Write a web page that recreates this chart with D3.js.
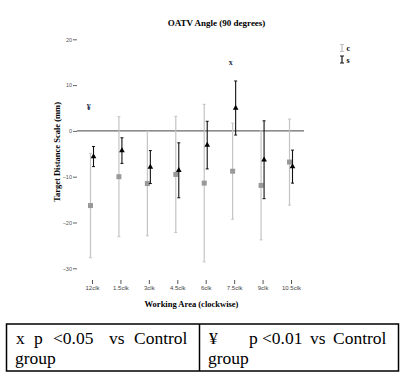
<!DOCTYPE html>
<html><head><meta charset="utf-8">
<script src="https://cdn.jsdelivr.net/npm/d3@7/dist/d3.min.js"></script>
<style>body{margin:0;background:#fff}svg{display:block}</style>
</head><body>
<script>
const categories = ["12clk","1.5clk","3clk","4.5clk","6clk","7.5clk","9clk","10.5clk"];
// Control group (c): mean and error half-width
const cMean = [-16.3,-10.0,-11.5,-9.5,-11.4,-8.8,-11.9,-6.8];
const cErr  = [11.4,13.1,11.4,12.7,17.2,10.5,11.9,9.4];
// Study group (s)
const sMean = [-5.6,-4.3,-7.9,-8.6,-3.1,5.0,-6.3,-7.8];
const sErr  = [2.2,2.8,3.6,6.0,5.2,5.9,8.5,3.6];
const yTicks = [-30,-20,-10,0,10,20];
const marks = [{cat:"12clk", v:5.2, t:"¥"},{cat:"7.5clk", v:14.9, t:"x"}];
const legendItems = [{k:"c", col:"#bdbdbd"},{k:"s", col:"#111"}];

const W=419,H=389;
const svg=d3.select("body").append("svg").attr("width",W).attr("height",H);
const x=d3.scalePoint().domain(categories).range([92,291]);
const y=d3.scaleLinear().domain([-30,20]).range([268.3,39.3]);
const serif="'Liberation Serif','DejaVu Serif',serif";
const sans="'Liberation Sans',Arial,sans-serif";

// title
svg.append("text").attr("x",216.5).attr("y",25.5).attr("text-anchor","middle")
  .attr("font-family",serif).attr("font-weight","bold").attr("font-size",9).text("OATV Angle (90 degrees)");

// y axis
const ya=svg.append("g").attr("transform","translate(77,0)")
  .call(d3.axisLeft(y).tickValues(yTicks).tickSize(4).tickPadding(1).tickFormat(d3.format("d")));
ya.select(".domain").remove();
ya.selectAll(".tick line").attr("stroke","#666");
ya.selectAll(".tick text").attr("font-family",sans).attr("font-size",5.5).attr("fill","#555");

// x axis
const xa=svg.append("g").attr("transform","translate(0,280)")
  .call(d3.axisBottom(x).tickSize(4).tickPadding(2));
xa.select(".domain").remove();
xa.selectAll(".tick line").attr("stroke","#555");
xa.selectAll(".tick text").attr("font-family",sans).attr("font-size",6).attr("fill","#444");

// axis titles
svg.append("text").attr("x",191.5).attr("y",307).attr("text-anchor","middle")
  .attr("font-family",serif).attr("font-weight","bold").attr("font-size",8.5).text("Working Area (clockwise)");
svg.append("text").attr("transform","translate(60,152) rotate(-90)").attr("text-anchor","middle")
  .attr("font-family",serif).attr("font-weight","bold").attr("font-size",8.5).text("Target Distance Scale (mm)");

// zero line
svg.append("line").attr("x1",77).attr("x2",304).attr("y1",y(0)).attr("y2",y(0))
  .attr("stroke","#444").attr("stroke-width",1);

function errBars(means,errs,dx,col,w){
  const g=svg.append("g");
  categories.forEach((c,i)=>{
    const cx=x(c)+dx, t=y(means[i]+errs[i]), b=y(means[i]-errs[i]);
    g.append("line").attr("x1",cx).attr("x2",cx).attr("y1",t).attr("y2",b).attr("stroke",col).attr("stroke-width",w);
    [t,b].forEach(yy=>g.append("line").attr("x1",cx-1.5).attr("x2",cx+1.5).attr("y1",yy).attr("y2",yy).attr("stroke",col).attr("stroke-width",1));
  });
}
errBars(cMean,cErr,-1.5,"#c4c4c4",1.2);
// control squares
svg.append("g").selectAll("rect").data(categories).join("rect")
  .attr("x",(c,i)=>x(c)-1.5-2.5).attr("y",(c,i)=>y(cMean[i])-2.5).attr("width",5).attr("height",5).attr("fill","#999");
errBars(sMean,sErr,1.5,"#111",1.1);
const tri=d3.symbol().type(d3.symbolTriangle).size(14);
svg.append("g").selectAll("path").data(categories).join("path")
  .attr("d",tri).attr("transform",(c,i)=>`translate(${x(c)+1.5},${y(sMean[i])})`).attr("fill","#000");

// significance marks
svg.append("g").selectAll("text").data(marks).join("text")
  .attr("x",d=>x(d.cat)-3.3).attr("y",d=>y(d.v)+2.5).attr("text-anchor","middle")
  .attr("font-family",serif).attr("font-weight","bold").attr("font-size",8).attr("fill","#1c2b4a").text(d=>d.t);

// legend
const lg=svg.append("g");
legendItems.forEach((d,i)=>{
  const ly=48+i*11.5, lx=342;
  lg.append("line").attr("x1",lx).attr("x2",lx).attr("y1",ly-3.5).attr("y2",ly+3.5).attr("stroke",d.col).attr("stroke-width",1.2);
  [ly-3.5,ly+3.5].forEach(yy=>lg.append("line").attr("x1",lx-2).attr("x2",lx+2).attr("y1",yy).attr("y2",yy).attr("stroke",d.col));
  lg.append("text").attr("x",lx+4.5).attr("y",ly+3).attr("font-family",serif).attr("font-weight","bold").attr("font-size",8).text(d.k);
});

// note table
const tTop=324, tBot=371;
const tb=svg.append("g");
tb.append("rect").attr("x",6.5).attr("y",tTop).attr("width",392).attr("height",tBot-tTop).attr("fill","none").attr("stroke","#000").attr("stroke-width",1.5);
tb.append("line").attr("x1",199.5).attr("x2",199.5).attr("y1",tTop).attr("y2",tBot).attr("stroke","#000").attr("stroke-width",1.5);
const words=[[16,"x"],[34,"p"],[53,"<0.05"],[109,"vs"],[134,"Control"],[209,"¥"],[249,"p"],[262,"<0.01"],[310,"vs"],[333,"Control"]];
words.forEach(w=>tb.append("text").attr("x",w[0]).attr("y",tTop+20).attr("font-family",serif).attr("font-size",17.5).text(w[1]));
[15,208].forEach(xx=>tb.append("text").attr("x",xx).attr("y",tTop+40).attr("font-family",serif).attr("font-size",17.5).text("group"));
</script>
</body></html>
